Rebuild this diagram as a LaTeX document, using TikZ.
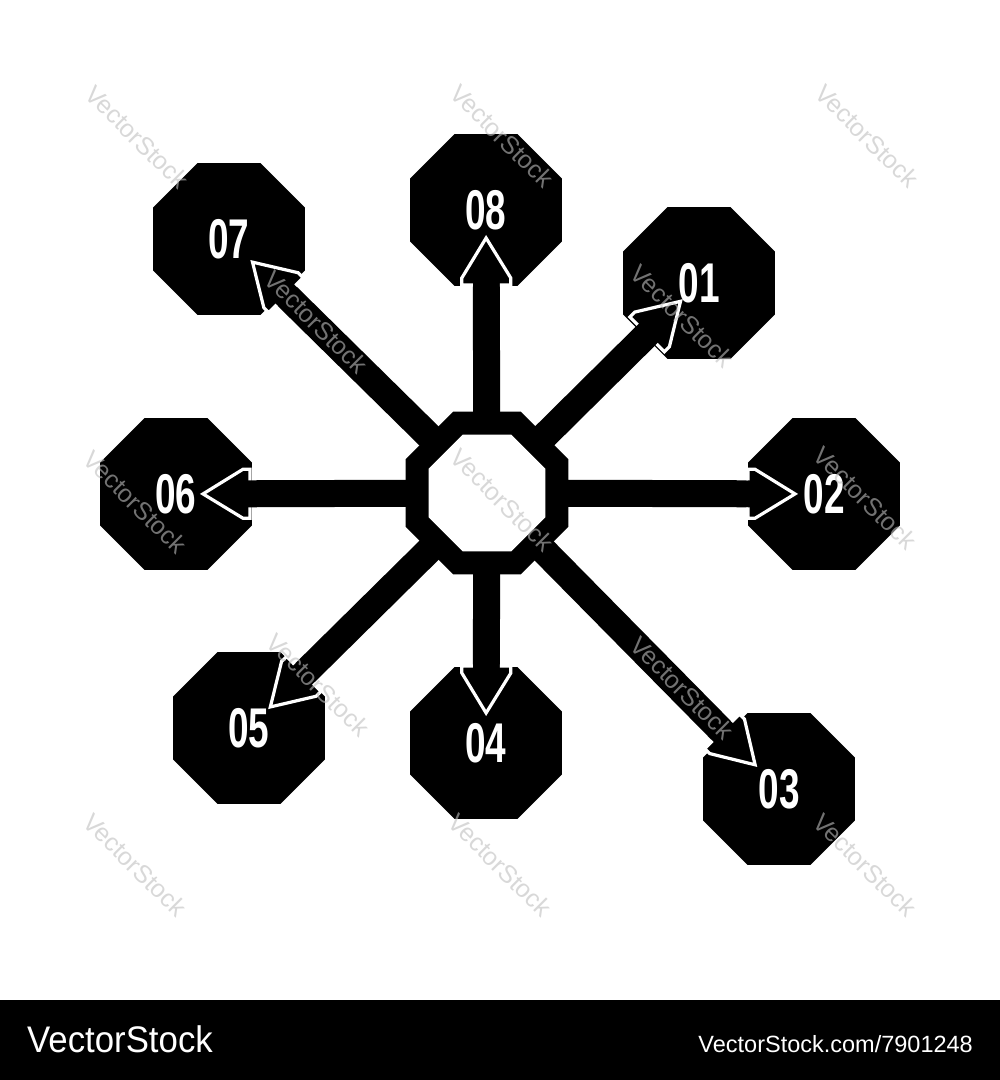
\documentclass[tikz,border=0pt]{standalone}
\usepackage{fontspec}
\usepackage{graphicx}
\setmainfont{Liberation Sans}
\usetikzlibrary{shapes.geometric,calc}
\tikzset{
  oct/.style={regular polygon, regular polygon sides=8, minimum size=164.5pt, inner sep=0pt, fill=black, draw=none},
  hubout/.style={regular polygon, regular polygon sides=8, minimum size=176.4pt, inner sep=0pt, fill=black, draw=none},
  hubin/.style={regular polygon, regular polygon sides=8, minimum size=126.6pt, inner sep=0pt, fill=white, draw=none},
  lab/.style={text=white, font=\fontsize{56}{56}\selectfont\bfseries, inner sep=0pt},
  bar/.style={line width=27pt, draw=black},
  headline/.style={draw=white, line width=3.2pt, line join=miter},
  wm/.style={text=black!25, text opacity=0.6, font=\fontsize{25}{25}\selectfont, rotate=-45, inner sep=0pt},
  foot/.style={text=white, inner sep=0pt},
}
\newcommand\mkspoke[2]{%
  \coordinate (t#1) at ($(o#1.center)!#2!(hub.center)$);
  \coordinate (b#1) at ($(t#1)!40pt!(hub.center)$);
  \coordinate (c#1) at ($(t#1)!47pt!(hub.center)$);
  \draw[bar] (hub.center) -- (b#1);
}
\newcommand\mkhead[1]{%
  \coordinate (pa#1) at ($(c#1)!13.5pt!90:(hub.center)$);
  \coordinate (pb#1) at ($(c#1)!24.5pt!90:(hub.center)$);
  \coordinate (pc#1) at ($(b#1)!24.5pt!90:(hub.center)$);
  \coordinate (pd#1) at ($(b#1)!24.5pt!-90:(hub.center)$);
  \coordinate (pe#1) at ($(c#1)!24.5pt!-90:(hub.center)$);
  \coordinate (pf#1) at ($(c#1)!13.5pt!-90:(hub.center)$);
  \fill[black] (pa#1) -- (pb#1) -- (pc#1) -- (t#1) -- (pd#1) -- (pe#1) -- (pf#1) -- cycle;
  \draw[headline] (pa#1) -- (pb#1) -- (pc#1) -- (t#1) -- (pd#1) -- (pe#1) -- (pf#1);
}
\begin{document}
\begin{tikzpicture}[x=1pt,y=-1pt]
\useasboundingbox (0,0) rectangle (1000,1080);
\fill[white] (0,0) rectangle (1000,1080);
% outer octagons
\node[oct] (o1) at (699,283) {};
\node[oct] (o2) at (824,494) {};
\node[oct] (o3) at (779,789) {};
\node[oct] (o4) at (486,743) {};
\node[oct] (o5) at (249,728) {};
\node[oct] (o6) at (176,494) {};
\node[oct] (o7) at (229,239) {};
\node[oct] (o8) at (486,210) {};
% hub
\node[hubout] (hub) at (487,493) {};
\mkspoke{1}{26pt}
\mkspoke{2}{29pt}
\mkspoke{3}{34pt}
\mkspoke{4}{30pt}
\mkspoke{5}{30pt}
\mkspoke{6}{27pt}
\mkspoke{7}{33pt}
\mkspoke{8}{28pt}
\node[hubin] (hubi) at (hub.center) {};
\mkhead{1}\mkhead{2}\mkhead{3}\mkhead{4}
\mkhead{5}\mkhead{6}\mkhead{7}\mkhead{8}
% labels
\node[lab] (l1) at (o1.center) {\scalebox{0.66}[1]{01}};
\node[lab] (l2) at (o2.center) {\scalebox{0.66}[1]{02}};
\node[lab] (l3) at (o3.center) {\scalebox{0.66}[1]{03}};
\node[lab] (l4) at (o4.center) {\scalebox{0.66}[1]{04}};
\node[lab] (l5) at (o5.center) {\scalebox{0.66}[1]{05}};
\node[lab] (l6) at (o6.center) {\scalebox{0.66}[1]{06}};
\node[lab] (l7) at (o7.center) {\scalebox{0.66}[1]{07}};
\node[lab] (l8) at (o8.center) {\scalebox{0.66}[1]{08}};
% watermarks
\node[wm] (w1) at (137,137) {VectorStock};
\node[wm] (w2) at (502,136) {VectorStock};
\node[wm] (w3) at (867,136) {VectorStock};
\node[wm] (w4) at (135,502) {VectorStock};
\node[wm] (w5) at (502,500) {VectorStock};
\node[wm] (w6) at (865,498) {VectorStock};
\node[wm] (w7) at (135,865) {VectorStock};
\node[wm] (w8) at (500,865) {VectorStock};
\node[wm] (w9) at (865,865) {VectorStock};
\node[wm] (w10) at (316,322) {VectorStock};
\node[wm] (w11) at (682,316) {VectorStock};
\node[wm] (w12) at (318,685) {VectorStock};
\node[wm] (w13) at (682,688) {VectorStock};
% footer
\fill[black] (0,1000) rectangle (1000,1080);
\node[foot, anchor=base west, font=\fontsize{37}{37}\selectfont] (f1) at (27,1052) {\scalebox{0.94}[1]{VectorStock}};
\node[foot, anchor=base east, font=\fontsize{23.5}{23.5}\selectfont] (f2) at (973,1052) {VectorStock.com/7901248};
\end{tikzpicture}
\end{document}
